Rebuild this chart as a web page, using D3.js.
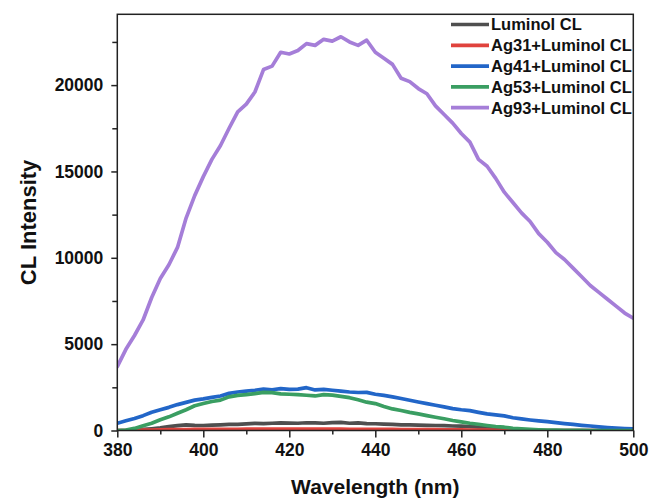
<!DOCTYPE html>
<html>
<head>
<meta charset="utf-8">
<script src="https://cdn.jsdelivr.net/npm/d3@7"></script>
<style>
  html, body { margin: 0; padding: 0; background: #fff; }
  svg { display: block; font-family: "Liberation Sans", Arial, sans-serif; }
</style>
</head>
<body>
<svg id="chart" width="651" height="499"></svg>
<script>
// ---- data ----
const wavelengths = d3.range(380, 501, 2);

const luminol = [0,0,20,60,100,150,220,280,330,300,290,310,330,350,360,380,410,400,420,440,430,420,450,440,420,460,470,420,440,400,390,370,360,330,320,310,300,290,280,260,250,230,200,160,110,70,40,20,10,5,0,0,0,0,0,0,0,0,0,0,0];

const ag31 = [0,0,10,20,30,40,45,50,55,60,60,65,65,70,70,75,75,80,80,80,80,80,80,80,78,75,75,72,70,70,68,65,60,58,55,50,48,45,40,38,35,30,25,20,15,10,5,0,0,0,0,0,0,0,0,0,0,0,0,0,0];

const ag41 = [420,560,700,860,1060,1200,1340,1500,1630,1760,1830,1920,2000,2150,2230,2280,2330,2400,2360,2420,2380,2400,2480,2350,2380,2330,2280,2230,2200,2210,2100,2030,1950,1850,1750,1650,1560,1460,1370,1270,1200,1150,1050,960,900,850,740,670,610,560,510,460,400,350,300,260,210,170,140,110,90];

const ag53 = [0,20,120,280,420,620,790,1000,1200,1430,1560,1680,1760,1950,2030,2080,2140,2210,2190,2120,2100,2080,2040,2000,2080,2050,1980,1900,1780,1640,1560,1390,1250,1160,1050,960,860,770,680,580,500,420,360,290,230,190,130,90,60,40,30,20,15,10,5,0,0,0,0,0,0];

const ag93 = [3700,4700,5500,6400,7700,8800,9600,10600,12300,13600,14700,15700,16500,17500,18450,18900,19600,20900,21100,21900,21800,22000,22400,22300,22650,22550,22800,22500,22300,22600,21900,21550,21200,20400,20200,19800,19500,18800,18300,17800,17200,16700,15700,15300,14600,13800,13200,12600,12100,11400,10900,10300,9900,9400,8900,8400,8000,7600,7200,6800,6500];

const seriesNames = ["Luminol CL", "Ag31+Luminol CL", "Ag41+Luminol CL", "Ag53+Luminol CL", "Ag93+Luminol CL"];
const seriesValues = [luminol, ag31, ag41, ag53, ag93];
const seriesColors = ["#4f4f4f", "#e0433d", "#2266c8", "#3a9e62", "#a57ed8"];

const xTicks = [380, 400, 420, 440, 460, 480, 500];
const xMinorTicks = [390, 410, 430, 450, 470, 490];
const yTicks = [0, 5000, 10000, 15000, 20000];
const yMinorTicks = [2500, 7500, 12500, 17500, 22500];

// ---- layout ----
const svg = d3.select("#chart");
const pLeft = 117.3, pRight = 633.3, pTop = 14.3, pBottom = 430.5;

const x = d3.scaleLinear().domain([380, 500]).range([pLeft, pRight]);
const y = d3.scaleLinear().domain([0, 24100]).range([pBottom, pTop]);

// lines (clipped to plot)
svg.append("clipPath").attr("id", "clip")
  .append("rect").attr("x", pLeft).attr("y", pTop).attr("width", pRight - pLeft).attr("height", pBottom - pTop);

const line = d3.line().x(d => x(d[0])).y(d => y(d[1]));
const gLines = svg.append("g").attr("clip-path", "url(#clip)");
seriesValues.forEach((vals, i) => {
  gLines.append("path")
    .datum(wavelengths.map((w, j) => [w, vals[j]]))
    .attr("fill", "none")
    .attr("stroke", seriesColors[i])
    .attr("stroke-width", 3.7)
    .attr("stroke-linejoin", "round")
    .attr("stroke-linecap", "round")
    .attr("d", line);
});

// axes
const fontTick = 17.5;
const xAxis = svg.append("g").attr("transform", `translate(0,${pBottom})`)
  .call(d3.axisBottom(x).tickValues(xTicks).tickFormat(d3.format("d")).tickSize(7).tickPadding(6));
const xMinor = svg.append("g").attr("transform", `translate(0,${pBottom})`)
  .call(d3.axisBottom(x).tickValues(xMinorTicks).tickFormat("").tickSize(4));
const yAxis = svg.append("g").attr("transform", `translate(${pLeft},0)`)
  .call(d3.axisLeft(y).tickValues(yTicks).tickFormat(d3.format("d")).tickSize(6).tickPadding(8));
const yMinor = svg.append("g").attr("transform", `translate(${pLeft},0)`)
  .call(d3.axisLeft(y).tickValues(yMinorTicks).tickFormat("").tickSize(5));

[xAxis, xMinor, yAxis, yMinor].forEach(g => {
  g.select(".domain").remove();
  g.selectAll(".tick line").attr("stroke", "#222").attr("stroke-width", 1.5);
  g.selectAll(".tick text").attr("fill", "#111").attr("font-size", fontTick)
    .attr("font-weight", "bold").attr("font-family", "'Liberation Sans', Arial, sans-serif");
});

// frame
svg.append("rect").attr("x", pLeft).attr("y", pTop).attr("width", pRight - pLeft).attr("height", pBottom - pTop)
  .attr("fill", "none").attr("stroke", "#222").attr("stroke-width", 1.5);

// axis titles
svg.append("text")
  .attr("x", (pLeft + pRight) / 2).attr("y", 494)
  .attr("text-anchor", "middle").attr("font-size", 21).attr("font-weight", "bold").attr("fill", "#111")
  .text("Wavelength (nm)");
svg.append("text")
  .attr("transform", `translate(36,${(pTop + pBottom) / 2}) rotate(-90)`)
  .attr("text-anchor", "middle").attr("font-size", 22).attr("font-weight", "bold").attr("fill", "#111")
  .text("CL Intensity");

// legend
const legend = svg.append("g");
seriesNames.forEach((name, i) => {
  const ly = 24.5 + i * 20.8;
  legend.append("line").attr("x1", 451).attr("x2", 489).attr("y1", ly).attr("y2", ly)
    .attr("stroke", seriesColors[i]).attr("stroke-width", 3.7);
  legend.append("text").attr("x", 491).attr("y", ly).attr("dy", "0.36em")
    .attr("font-size", 16.5).attr("font-weight", "bold").attr("fill", "#111").text(name);
});
</script>
</body>
</html>
